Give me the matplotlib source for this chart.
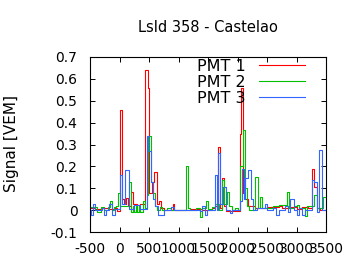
import numpy as np
import matplotlib
matplotlib.use("Agg")
import matplotlib.pyplot as plt

TITLE = "LsId 358 - Castelao"
YLABEL = "Signal [VEM]"
LABELS = ["PMT 1", "PMT 2", "PMT 3"]
COLORS = ["#ff0000", "#00c000", "#3366ff"]

# step traces: start time of each bin [ns] and signal [VEM]
pmt1_t = [-500, -420, -300, -180, -100, -40, 0, 40, 70, 110, 150, 200, 230, 300,
          350, 430, 475, 505, 550, 590, 630, 670, 700, 760, 900, 930, 1000, 1200,
          1400, 1560, 1620, 1675, 1705, 1735, 1765, 1800, 2035, 2055, 2090, 2130,
          2180, 2300, 2500, 2700, 2750, 2900, 3000, 3100, 3200, 3255, 3300, 3345,
          3400, 3500]
pmt1_v = [0.01, 0.005, 0.012, 0.005, 0.01, -0.003, 0.46, 0.05, 0.03, 0.055, 0.02,
          0.085, 0.03, 0.025, 0.03, 0.64, 0.56, 0.08, 0.13, 0.175, 0.03, 0.04, 0.01,
          0.0, 0.03, 0.0, 0.0, 0.005, 0.0, 0.01, 0.02, 0.287, 0.01, 0.148, 0.02,
          -0.005, 0.35, 0.56, 0.08, 0.05, 0.02, 0.01, 0.015, 0.02, 0.01, 0.015,
          0.005, 0.015, 0.01, 0.19, 0.107, 0.01, 0.0, 0.0]

pmt2_t = [-500, -380, -320, -260, -200, -160, -120, -100, -60, -20, 0, 160, 200,
          230, 250, 280, 300, 330, 350, 400, 430, 470, 490, 530, 560, 600, 640, 680,
          720, 800, 870, 1120, 1160, 1200, 1300, 1360, 1395, 1470, 1500, 1560, 1620,
          1680, 1730, 1765, 1815, 1850, 1900, 1960, 2000, 2040, 2090, 2120, 2160,
          2200, 2300, 2340, 2380, 2420, 2500, 2600, 2700, 2845, 2875, 2950, 3000,
          3050, 3140, 3185, 3300, 3345, 3450, 3500]
pmt2_v = [0.015, -0.008, 0.015, 0.0, 0.015, 0.04, 0.0, 0.015, 0.02, 0.08, 0.02,
          0.13, -0.008, 0.02, -0.008, 0.02, -0.008, 0.02, -0.008, 0.04, 0.01, 0.07,
          0.34, 0.13, 0.08, 0.02, 0.0, 0.015, 0.0, 0.01, 0.0, 0.2, 0.01, 0.0, 0.01,
          -0.03, 0.01, 0.04, 0.005, 0.015, 0.03, 0.0, 0.137, 0.03, 0.084, 0.02, 0.0,
          0.01, 0.0, 0.2, 0.366, 0.1, 0.02, 0.0, 0.15, 0.01, 0.06, 0.01, 0.01, 0.02,
          0.025, 0.084, 0.01, 0.02, 0.025, 0.01, -0.027, 0.02, 0.07, 0.01, 0.06, 0.06]

pmt3_t = [-500, -480, -450, -420, -300, -260, -230, -170, -120, -80, 0, 40, 100,
          155, 250, 350, 470, 505, 535, 565, 600, 650, 760, 880, 920, 1200, 1364,
          1400, 1450, 1480, 1620, 1660, 1675, 1705, 1760, 1800, 1880, 1910, 2040,
          2070, 2110, 2130, 2183, 2225, 2260, 2330, 2460, 2500, 2600, 2650, 2700,
          2800, 2850, 2890, 2950, 3000, 3050, 3100, 3150, 3255, 3300, 3345, 3380,
          3430, 3500]
pmt3_v = [0.0, -0.02, 0.027, 0.0, 0.01, -0.02, 0.0, 0.027, -0.02, 0.005, 0.16,
          0.03, 0.183, 0.005, 0.023, 0.005, 0.34, 0.27, 0.13, 0.05, 0.02, -0.023,
          0.0, 0.015, 0.0, 0.0, -0.005, 0.02, -0.02, 0.0, 0.16, 0.0, 0.26, 0.03,
          0.107, 0.0, -0.015, 0.0, 0.04, 0.19, 0.05, 0.146, 0.183, 0.05, 0.0, 0.01,
          0.027, 0.0, 0.01, -0.02, 0.0, 0.02, -0.01, 0.05, 0.0, -0.02, 0.01, -0.02,
          0.0, 0.137, 0.13, -0.01, 0.274, 0.0, 0.0]

XTICKS = [-500, 0, 500, 1000, 1500, 2000, 2500, 3000, 3500]
YTICKS = [-0.1, 0, 0.1, 0.2, 0.3, 0.4, 0.5, 0.6, 0.7]
YTICKLABELS = ["-0.1", "0", "0.1", "0.2", "0.3", "0.4", "0.5", "0.6", "0.7"]

plt.rcParams["font.family"] = "DejaVu Sans"

fig = plt.figure(figsize=(3.6, 2.7), dpi=100)
ax = fig.add_axes([90 / 360, 1 - 232 / 270, 236 / 360, 175 / 270])

for t, v, lab, col in zip([pmt1_t, pmt2_t, pmt3_t], [pmt1_v, pmt2_v, pmt3_v],
                          LABELS, COLORS):
    ax.step(t, v, where="post", color=col, lw=0.8, label=lab)

ax.set_xlim(-500, 3500)
ax.set_ylim(-0.1, 0.7)
ax.set_xticks(XTICKS)
ax.set_xticklabels([str(x) for x in XTICKS])
ax.set_yticks(YTICKS)
ax.set_yticklabels(YTICKLABELS)
ax.tick_params(direction="in", length=3.5, width=0.7, top=True, right=True,
               labelsize=10, colors="black")
ax.tick_params(axis="x", pad=7)
ax.tick_params(axis="y", pad=9)
for s in ax.spines.values():
    s.set_linewidth(0.8)

ax.set_title(TITLE, fontsize=10.5, pad=18)
fig.text(12 / 360, 1 - 144 / 270, YLABEL, rotation=90, fontsize=11,
         ha="center", va="center")

ax.legend(loc="upper right", bbox_to_anchor=(305 / 360, 1 - 59 / 270),
          bbox_transform=fig.transFigure, frameon=False, markerfirst=False,
          fontsize=11.5, handlelength=2.9, handletextpad=0.8, borderpad=0,
          borderaxespad=0, labelspacing=0.05)

fig.savefig("out.png", dpi=100)
